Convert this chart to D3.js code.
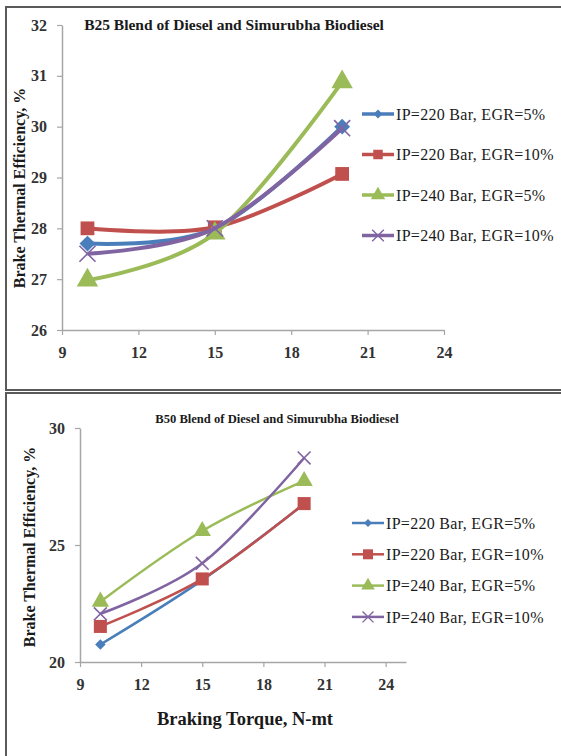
<!DOCTYPE html>
<html>
<head>
<meta charset="utf-8">
<script src="https://cdn.jsdelivr.net/npm/d3@7/dist/d3.min.js"></script>
<style>
  body { margin: 0; background: #fff; }
  svg text { font-family: "Liberation Serif", "DejaVu Serif", serif; }
</style>
</head>
<body>
<div class="chart"></div>
<script>

// Braking torque (N-mt) at each load
var torque = [10, 15, 20];

var seriesNames = ["IP=220 Bar, EGR=5%", "IP=220 Bar, EGR=10%", "IP=240 Bar, EGR=5%", "IP=240 Bar, EGR=10%"];
var seriesColors = ["#4a7ebb", "#c0504d", "#9bbb59", "#8064a2"];
var seriesMarkers = ["diamond", "square", "triangle", "cross"];

// B25 blend, brake thermal efficiency %
var b25_220_5 = [27.7, 28.0, 30.0];
var b25_220_10 = [28.0, 28.02, 29.07];
var b25_240_5 = [26.98, 27.9, 30.88];
var b25_240_10 = [27.5, 28.0, 29.97];

// B50 blend, brake thermal efficiency %
var b50_220_5 = [20.75, 23.5, 26.75];
var b50_220_10 = [21.52, 23.55, 26.77];
var b50_240_5 = [22.58, 25.6, 27.74];
var b50_240_10 = [22.06, 24.22, 28.72];

var xTicks = [9, 12, 15, 18, 21, 24];
var b25Ticks = [26, 27, 28, 29, 30, 31, 32];
var b50Ticks = [20, 25, 30];

var serif = "'Liberation Serif', 'DejaVu Serif', serif";

var svg = d3.select(".chart")
  .append("svg")
    .attr("width", 561)
    .attr("height", 756);

// frames around the two figures
svg.append("rect")
  .attr("x", 6).attr("y", 7)
  .attr("width", 600).attr("height", 383)
  .attr("fill", "none").attr("stroke", "#5a5a5a").attr("stroke-width", 2);
svg.append("rect")
  .attr("x", 6).attr("y", 393)
  .attr("width", 600).attr("height", 400)
  .attr("fill", "none").attr("stroke", "#5a5a5a").attr("stroke-width", 2);

function markerPath(type, size) {
  var sym = {
    diamond: d3.symbolDiamond2,
    square: d3.symbolSquare,
    triangle: d3.symbolTriangle,
    cross: d3.symbolTimes
  }[type];
  return d3.symbol().type(sym).size(size)();
}

function drawPanel(cfg) {
  var g = svg.append("g");

  var x = d3.scaleLinear().domain(cfg.xDomain).range([cfg.left, cfg.right]);
  var y = d3.scaleLinear().domain(cfg.yDomain).range([cfg.bottom, cfg.top]);

  // axes
  var xAxis = g.append("g")
    .attr("transform", "translate(0," + cfg.bottom + ")")
    .call(d3.axisBottom(x).tickValues(xTicks).tickFormat(d3.format("d"))
      .tickSize(5).tickPadding(12).tickSizeOuter(0));
  var yAxis = g.append("g")
    .attr("transform", "translate(" + cfg.left + ",0)")
    .call(d3.axisLeft(y).tickValues(cfg.yTicks).tickFormat(d3.format("d"))
      .tickSize(5).tickPadding(10).tickSizeOuter(0));

  [xAxis, yAxis].forEach(function(a) {
    a.attr("font-family", null);
    a.select(".domain").attr("stroke", "#a6a6a6").attr("stroke-width", 1.5);
    a.selectAll(".tick line").attr("stroke", "#a6a6a6").attr("stroke-width", 1.2);
    a.selectAll(".tick text")
      .attr("fill", "#333")
      .style("font-family", serif)
      .style("font-size", "16px")
      .style("font-weight", "bold");
  });

  // title
  g.append("text")
    .attr("x", cfg.titleX).attr("y", cfg.titleY)
    .attr("text-anchor", "middle")
    .style("font-family", serif)
    .style("font-size", cfg.titleSize + "px")
    .style("font-weight", "bold")
    .attr("fill", "#1a1a1a")
    .text(cfg.title);

  // y label
  g.append("text")
    .attr("transform", "translate(" + cfg.yLabelX + "," + cfg.yLabelY + ") rotate(-90)")
    .attr("text-anchor", "middle")
    .style("font-family", serif)
    .style("font-size", "16px")
    .style("font-weight", "bold")
    .attr("fill", "#1a1a1a")
    .text("Brake Thermal Efficiency, %");

  var line = d3.line()
    .x(function(d) { return x(d.t); })
    .y(function(d) { return y(d.v); })
    .curve(d3.curveCatmullRom.alpha(0));

  cfg.series.forEach(function(vals, i) {
    var pts = torque.map(function(t, j) { return {t: t, v: vals[j]}; });
    g.append("path")
      .datum(pts)
      .attr("d", line)
      .attr("fill", "none")
      .attr("stroke", seriesColors[i])
      .attr("stroke-width", cfg.lineWidth)
      .attr("stroke-linejoin", "round");

    g.selectAll(null)
      .data(pts)
      .enter()
      .append("path")
        .attr("transform", function(d) { return "translate(" + x(d.t) + "," + y(d.v) + ")"; })
        .attr("d", markerPath(seriesMarkers[i], cfg.markerSizes[i]))
        .attr("fill", seriesColors[i])
        .attr("stroke", seriesColors[i])
        .attr("stroke-width", seriesMarkers[i] == "cross" ? 1.6 : 0);
  });

  // legend
  seriesNames.forEach(function(name, i) {
    var ly = cfg.legendY + i * cfg.legendStep;
    g.append("line")
      .attr("x1", cfg.legendX).attr("x2", cfg.legendX + 32)
      .attr("y1", ly).attr("y2", ly)
      .attr("stroke", seriesColors[i])
      .attr("stroke-width", cfg.legendLine);
    g.append("path")
      .attr("transform", "translate(" + (cfg.legendX + 16) + "," + ly + ")")
      .attr("d", markerPath(seriesMarkers[i], cfg.legendMarker[i]))
      .attr("fill", seriesColors[i])
      .attr("stroke", seriesColors[i])
      .attr("stroke-width", seriesMarkers[i] == "cross" ? 1.4 : 0);
    g.append("text")
      .attr("x", cfg.legendX + 34).attr("y", ly)
      .attr("dy", "0.35em")
      .style("font-family", serif)
      .style("font-size", "16px")
      .style("letter-spacing", "0.3px")
      .attr("fill", "#1a1a1a")
      .text(name);
  });

  return g;
}

drawPanel({
  xDomain: [9, 24], yDomain: [26, 32], yTicks: b25Ticks,
  left: 62, right: 444, top: 25, bottom: 330,
  title: "B25 Blend of Diesel and Simurubha Biodiesel", titleX: 234, titleY: 30, titleSize: 15.5,
  yLabelX: 25, yLabelY: 188,
  series: [b25_220_5, b25_220_10, b25_240_5, b25_240_10],
  lineWidth: 4, markerSizes: [160, 190, 200, 170],
  legendX: 362, legendY: 114, legendStep: 40.5, legendLine: 3.5, legendMarker: [50, 90, 90, 90]
});

var bottom = drawPanel({
  xDomain: [9, 25], yDomain: [20, 30], yTicks: b50Ticks,
  left: 80, right: 406, top: 428, bottom: 662,
  title: "B50 Blend of Diesel and Simurubha Biodiesel", titleX: 277, titleY: 423, titleSize: 12.6,
  yLabelX: 35, yLabelY: 547,
  series: [b50_220_5, b50_220_10, b50_240_5, b50_240_10],
  lineWidth: 2.5, markerSizes: [70, 170, 130, 110],
  legendX: 352, legendY: 523, legendStep: 31.3, legendLine: 2.5, legendMarker: [40, 100, 80, 80]
});

// x axis title (shared, on the lower figure)
bottom.append("text")
  .attr("x", 245).attr("y", 725)
  .attr("text-anchor", "middle")
  .style("font-family", serif)
  .style("font-size", "18.5px")
  .style("font-weight", "bold")
  .attr("fill", "#1a1a1a")
  .text("Braking Torque, N-mt");

</script>
</body>
</html>
